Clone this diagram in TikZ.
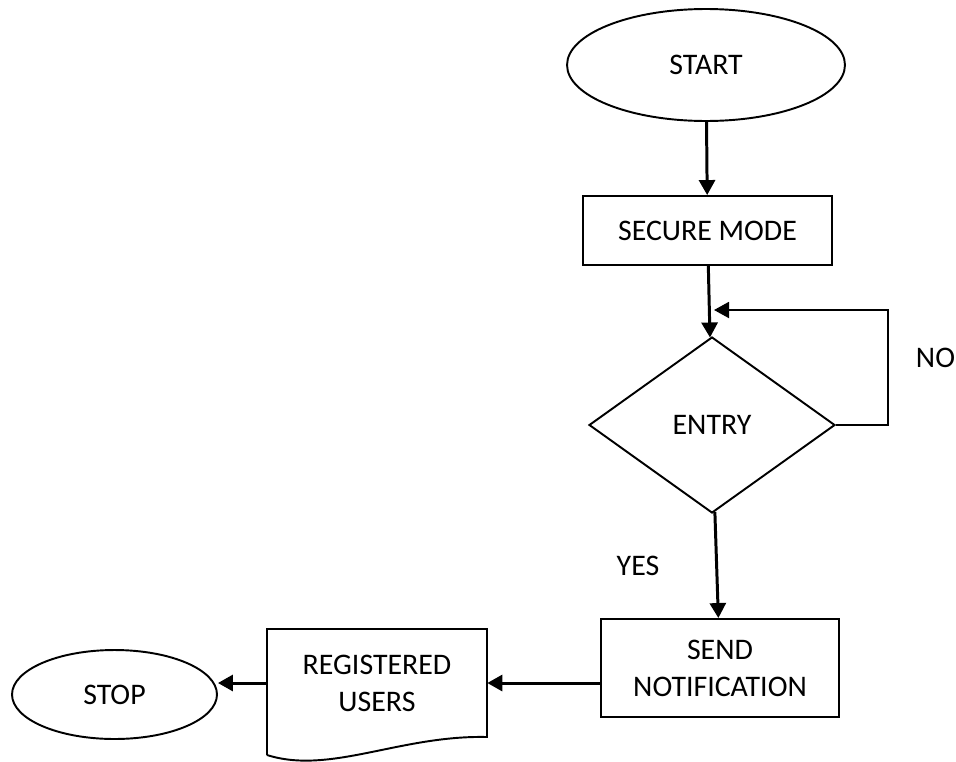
\documentclass[tikz,border=0pt]{standalone}
\usepackage{fontspec}
\setmainfont{Carlito}
\usetikzlibrary{arrows.meta,shapes.geometric}

\tikzset{
	box/.style={draw, line width=1.1pt, rectangle, align=center, inner sep=0pt},
	term/.style={draw, line width=1.1pt, ellipse, inner sep=0pt},
	decide/.style={draw, line width=1.1pt, diamond, inner sep=0pt},
	arr/.style={line width=1.7pt, -{Triangle[length=0.3cm,width=0.32cm]}}
}

\begin{document}
\begin{tikzpicture}[x=0.02cm, y=-0.02cm, font=\fontsize{17}{21}\selectfont]
			%%%%% START %%%%%
			\useasboundingbox (0, 0) rectangle (956, 761);
			
			\node[term, minimum width=5.56cm, minimum height=2.24cm] (start) at (706, 65) {START};
			\node[box, minimum width=4.98cm, minimum height=1.38cm] (secure) at (707.5, 230.5) {SECURE MODE};
			\node[decide, minimum width=4.92cm, minimum height=3.52cm, aspect=1.4] (entry) at (712, 425) {ENTRY};
			\node[box, minimum width=4.76cm, minimum height=1.96cm] (send) at (720, 668) {SEND\\NOTIFICATION};
			\node[align=center, minimum width=4.4cm, minimum height=2.16cm, inner sep=0pt] (reg) at (377, 683) {REGISTERED\\USERS};
			\node[term, minimum width=4.1cm, minimum height=1.78cm] (stop) at (114.5, 694.5) {STOP};
			
			% document outline with wavy bottom
			\draw[line width=1.1pt] (267, 755) -- (267, 629) -- (487, 629) -- (487, 737)
				.. controls (400, 735) and (330, 775) .. (267, 755);
			
			\coordinate (loop) at (888, 310);
			\coordinate (join) at (714, 310);
			
			\draw[arr] (start) -- (secure);
			\draw[arr] (secure) -- (entry);
			\draw[line width=1.1pt, -{Triangle[length=0.3cm,width=0.32cm]}] (entry.east) -| (loop) -- (join);
			\draw[arr] (entry) -- (send);
			\draw[arr] (send.west |- reg.east) -- (reg.east);
			\draw[arr] (reg.west) -- (reg.west -| stop.east);
			
			\node (no) at (935.5, 358) {NO};
			\node (yes) at (638, 566) {YES};
			%%%%% END %%%%%
		\end{tikzpicture}
\end{document}
